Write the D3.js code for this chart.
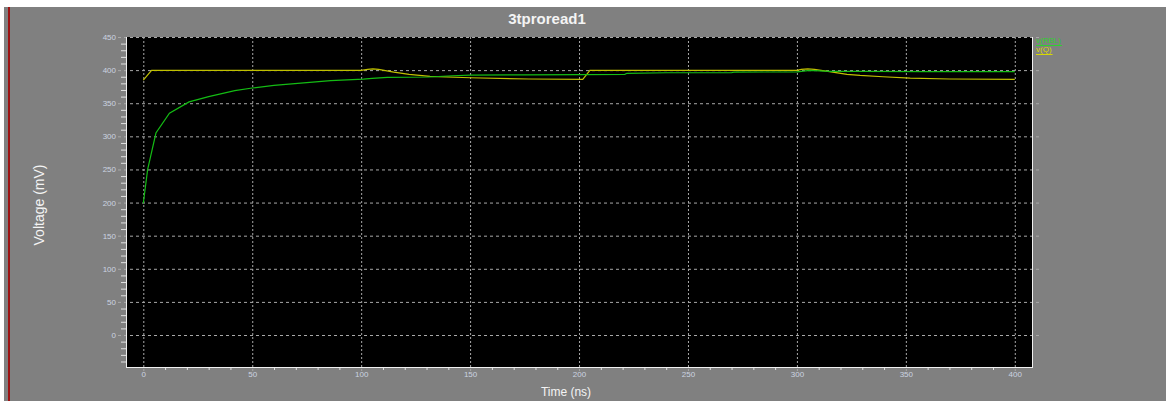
<!DOCTYPE html>
<html><head><meta charset="utf-8">
<script src="https://cdn.jsdelivr.net/npm/d3@7"></script>
<style>html,body{margin:0;padding:0;background:#fff;}svg{display:block;}</style>
</head><body>
<svg id="c" width="1166" height="401"></svg>
<script>
const title = "3tproread1";
const xLabel = "Time (ns)";
const yLabel = "Voltage (mV)";
const xTicks = [0,50,100,150,200,250,300,350,400];
const yTicks = [0,50,100,150,200,250,300,350,400,450];
const seriesNames = ["v(RBL)", "v(Q)"];
const rblT = [0,2,5.8,12,21,30,42,50,60,75,86,101,105,112,131,142,150,175,200,221,222,240,270,271,300,302,306,315,330,360,400];
const rblV = [199,250,305,335,352,360,369,373,377,381,384,386.5,387.5,389,389.6,391.5,392.5,392.8,393.2,393.7,395.2,396,396,397,397.3,398,399.5,398,398,397.8,397.7];
const qT = [0,3.8,100,103,105.4,108,115,122,131.6,150,177,201.7,205,300,302,305,308,315,323,329,339.5,352,370,400];
const qV = [385,399.6,399.6,401,402,401,397,393.7,390.6,388.5,386.6,386,399.6,399.6,401,402,401,397.6,393.7,392,390,388,386.6,386];

const svg = d3.select("#c");
const W = 1166, H = 401;
const L = 126, R = 1032, T = 37, B = 367;
const colors = ["#14bc14", "#c0c000"];

svg.append("rect").attr("width", W).attr("height", H).attr("fill", "#808080");
svg.append("rect").attr("x",0).attr("y",0).attr("width",W).attr("height",7).attr("fill","#fff");
svg.append("rect").attr("x",0).attr("y",0).attr("width",4).attr("height",H).attr("fill","#fff");
svg.append("rect").attr("x",8).attr("y",7).attr("width",2).attr("height",H).attr("fill","#9c1212");

const x = d3.scaleLinear().domain([-7.94, 407.9]).range([L, R]);
const y = d3.scaleLinear().domain([-48.3, 450]).range([B, T]);

svg.append("rect").attr("x",L).attr("y",T).attr("width",R-L).attr("height",B-T).attr("fill","#000");

// grid
const g = svg.append("g");
g.selectAll(".gx").data(xTicks).join("line")
  .attr("x1", d=>x(d)+0.5).attr("x2", d=>x(d)+0.5).attr("y1", T).attr("y2", B+5)
  .attr("stroke","#a8a8a8").attr("stroke-width",1).attr("stroke-dasharray","2,2");
g.selectAll(".gy").data(yTicks).join("line")
  .attr("x1", L-8).attr("x2", R+8).attr("y1", d=>y(d)+0.5).attr("y2", d=>y(d)+0.5)
  .attr("stroke","#a8a8a8").attr("stroke-width",1).attr("stroke-dasharray","3,3");

// minor ticks
const yMinor = d3.range(-40, 451, 10).filter(v => v % 50 !== 0);
const xMinor = d3.range(0, 401, 10).filter(v => v % 50 !== 0);
g.selectAll(".my").data(yMinor).join("line")
  .attr("x1", L-5).attr("x2", L).attr("y1", d=>y(d)+0.5).attr("y2", d=>y(d)+0.5)
  .attr("stroke","#e0e0e0");
g.selectAll(".mx").data(xMinor).join("line")
  .attr("x1", d=>x(d)+0.5).attr("x2", d=>x(d)+0.5).attr("y1", B).attr("y2", B+3)
  .attr("stroke","#e0e0e0");

// axis lines
svg.append("line").attr("x1",L+0.5).attr("x2",L+0.5).attr("y1",T).attr("y2",B+1).attr("stroke","#f0f0f0");
svg.append("line").attr("x1",L).attr("x2",R+1).attr("y1",B+0.5).attr("y2",B+0.5).attr("stroke","#f0f0f0");
svg.append("line").attr("x1",R+0.5).attr("x2",R+0.5).attr("y1",T).attr("y2",B+1).attr("stroke","#f0f0f0");

// tick labels
svg.selectAll(".ty").data(yTicks).join("text")
  .attr("x", L-10).attr("y", d=>y(d)+3).attr("text-anchor","end")
  .attr("font-family","Liberation Sans, Arial, sans-serif").attr("font-size",8)
  .attr("fill","#ccd4e0").text(d=>d);
svg.selectAll(".tx").data(xTicks).join("text")
  .attr("x", d=>x(d)+0.5).attr("y", B+10).attr("text-anchor","middle")
  .attr("font-family","Liberation Sans, Arial, sans-serif").attr("font-size",8)
  .attr("fill","#ccd4e0").text(d=>d);

// lines
const line = d3.line().x(d=>x(d[0])).y(d=>y(d[1]));
svg.append("clipPath").attr("id","pc").append("rect").attr("x",L).attr("y",T).attr("width",R-L).attr("height",B-T);
const series = [d3.zip(rblT, rblV), d3.zip(qT, qV)];
[1,0].forEach(i => {
  svg.append("path").datum(series[i]).attr("d", line).attr("fill","none")
    .attr("stroke", colors[i]).attr("stroke-width",1.2).attr("clip-path","url(#pc)");
});

// title and labels
svg.append("text").attr("x",547).attr("y",24).attr("text-anchor","middle")
  .attr("font-family","Liberation Sans, Arial, sans-serif").attr("font-size",15).attr("font-weight","bold")
  .attr("fill","#f4f4f4").text(title);
svg.append("text").attr("transform","translate(44,205) rotate(-90)").attr("text-anchor","middle")
  .attr("font-family","Liberation Sans, Arial, sans-serif").attr("font-size",14)
  .attr("fill","#f4f4f4").text(yLabel);
svg.append("text").attr("x",566).attr("y",396).attr("text-anchor","middle")
  .attr("font-family","Liberation Sans, Arial, sans-serif").attr("font-size",12)
  .attr("fill","#f4f4f4").text(xLabel);

// legend
const legColors = ["#2ed22e", "#d8d800"];
seriesNames.forEach((n, i) => {
  const ty = 43 + i*9;
  const t = svg.append("text").attr("x",1036).attr("y",ty)
    .attr("font-family","Liberation Sans, Arial, sans-serif").attr("font-size",8)
    .attr("fill",legColors[i]).text(n);
  const w = t.node().getComputedTextLength();
  svg.append("line").attr("x1",1036).attr("x2",1036+w+1).attr("y1",ty+2.5).attr("y2",ty+2.5)
    .attr("stroke",legColors[i]).attr("stroke-width",1);
});
</script>
</body></html>
